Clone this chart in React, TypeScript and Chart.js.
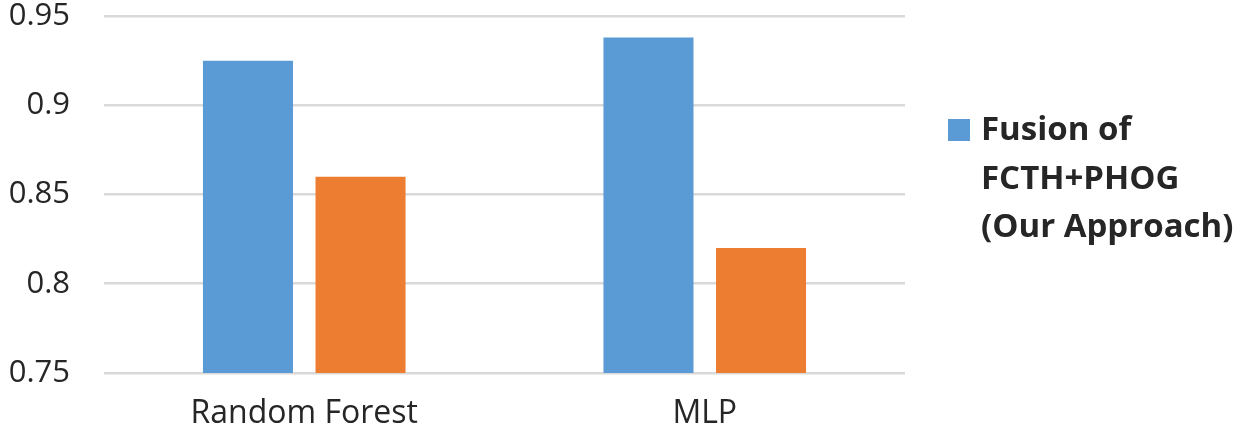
import React, { useEffect, useRef } from "react";
import { Chart, registerables } from "chart.js";

Chart.register(...registerables);

const categories = ["Random Forest", "MLP"];
const fusionValues = [0.925, 0.938];
const otherValues = [0.86, 0.82];
const fusionLabelLines = ["Fusion of", "FCTH+PHOG", "(Our Approach)"];
const otherLabel = "Other approach";
const yTickValues = [0.75, 0.8, 0.85, 0.9, 0.95];

const BLUE = "#5B9BD5";
const ORANGE = "#ED7D31";
const FONT = "'Open Sans', 'Noto Sans', sans-serif";

const sideLegend = {
  id: "sideLegend",
  afterDraw(chart: any) {
    const { ctx, chartArea } = chart;
    const x0 = chartArea.right + 43;
    const firstY = 131;
    const lineH = 48.5;
    ctx.save();
    ctx.fillStyle = BLUE;
    ctx.fillRect(x0, firstY - 12, 22, 22);
    ctx.fillStyle = "#262626";
    ctx.font = `bold 33px ${FONT}`;
    ctx.textBaseline = "middle";
    ctx.textAlign = "left";
    fusionLabelLines.forEach((line, i) => {
      ctx.fillText(line, x0 + 33, firstY + i * lineH);
    });
    ctx.restore();
  },
};

export default function App() {
  const ref = useRef<HTMLCanvasElement | null>(null);

  useEffect(() => {
    document.body.style.margin = "0";
    const canvas = ref.current;
    if (!canvas) return;
    const chart = new Chart(canvas, {
      type: "bar",
      data: {
        labels: categories,
        datasets: [
          {
            label: fusionLabelLines.join(" "),
            data: fusionValues,
            backgroundColor: BLUE,
            categoryPercentage: 0.562,
            barPercentage: 0.8,
          },
          {
            label: otherLabel,
            data: otherValues,
            backgroundColor: ORANGE,
            categoryPercentage: 0.562,
            barPercentage: 0.8,
          },
        ],
      },
      options: {
        animation: false,
        responsive: false,
        maintainAspectRatio: false,
        layout: { padding: { top: 16, right: 340, left: 0, bottom: 0 } },
        plugins: {
          legend: { display: false },
          tooltip: { enabled: false },
        },
        scales: {
          x: {
            grid: { display: false, drawTicks: false },
            border: { display: false },
            ticks: {
              color: "#262626",
              font: { family: FONT, size: 32 },
              padding: 22,
            },
            afterFit(scale: any) {
              scale.height = 64;
            },
          },
          y: {
            min: 0.75,
            max: 0.95,
            grid: { color: "#d9d9d9", lineWidth: 2.5, drawTicks: false },
            border: { display: false },
            afterBuildTicks(scale: any) {
              scale.ticks = yTickValues.map((v) => ({ value: v }));
            },
            ticks: {
              color: "#262626",
              font: { family: FONT, size: 31 },
              padding: 34,
              callback: (v: any) => String(Number(Number(v).toFixed(2))),
            },
            afterFit(scale: any) {
              scale.width = 104;
              scale.paddingTop = 0;
              scale.paddingBottom = 0;
            },
          },
        },
      },
      plugins: [sideLegend],
    });
    return () => chart.destroy();
  }, []);

  return (
    <div style={{ position: "absolute", left: 0, top: 0, width: 1245, height: 437, background: "#fff" }}>
      <canvas ref={ref} width={1245} height={437} style={{ width: 1245, height: 437 }} />
    </div>
  );
}
